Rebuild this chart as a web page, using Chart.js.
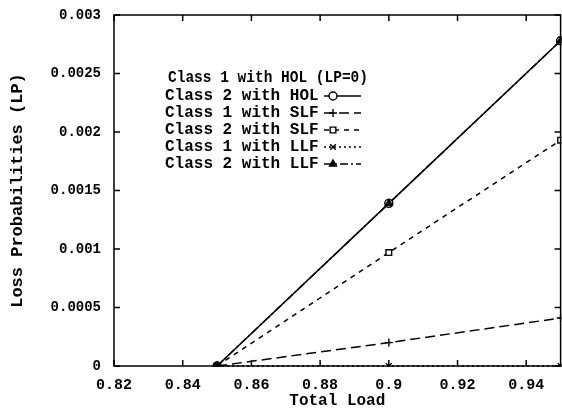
<!DOCTYPE html>
<html>
<head>
<meta charset="utf-8">
<script src="https://cdn.jsdelivr.net/npm/chart.js@4/dist/chart.umd.min.js"></script>
<style>
  body { margin: 0; background: #fff; overflow: hidden; }
  /* canvas is a few px wider than the window so the frame lands on the right edge,
     as in the cropped original */
  #wrap { width: 562px; height: 413px; overflow: hidden; }
</style>
</head>
<body>
<div id="wrap"><canvas id="lpChart" width="566" height="413"></canvas></div>
<script>
// data
const loads = [0.85, 0.9, 0.95];
const class1HOL = [0, 0, 0];
const class2HOL = [0, 0.00139, 0.00278];
const class1SLF = [0, 0.0002, 0.00041];
const class2SLF = [0, 0.00097, 0.00193];
const class1LLF = [0, 0, 0];
const class2LLF = [0, 0.00139, 0.00278];

const seriesLabels = [
  'Class 1 with HOL (LP=0)',
  'Class 2 with HOL',
  'Class 1 with SLF',
  'Class 2 with SLF',
  'Class 1 with LLF',
  'Class 2 with LLF'
];

const xTicks = [0.82, 0.84, 0.86, 0.88, 0.9, 0.92, 0.94];
const xTickLabels = ['0.82', '0.84', '0.86', '0.88', '0.9', '0.92', '0.94'];
const yTicks = [0, 0.0005, 0.001, 0.0015, 0.002, 0.0025, 0.003];
const yTickLabels = ['0', '0.0005', '0.001', '0.0015', '0.002', '0.0025', '0.003'];

const FONT = "'Liberation Mono', 'DejaVu Sans Mono', monospace";

function toPoints(values) {
  return loads.map((x, i) => ({ x: x, y: values[i] }));
}

function series(label, values, dash, style, fill, order) {
  return {
    label: label,
    data: toPoints(values),
    borderColor: '#000',
    borderWidth: 1.5,
    borderDash: dash,
    pointStyle: style,
    pointRadius: 4,
    pointBorderWidth: 1.4,
    pointBorderColor: '#000',
    pointBackgroundColor: fill,
    tension: 0,
    fill: false,
    clip: 1,
    order: order
  };
}

const datasets = [
  // LP=0 everywhere, only shows up in the key
  Object.assign(series(seriesLabels[0], class1HOL, [], false, '#fff', 6), { showLine: false, pointRadius: 0 }),
  series(seriesLabels[1], class2HOL, [], 'circle', '#fff', 5),
  series(seriesLabels[2], class1SLF, [10, 5], 'cross', '#fff', 4),
  series(seriesLabels[3], class2SLF, [5, 5], 'rect', '#fff', 3),
  series(seriesLabels[4], class1LLF, [2, 3], 'crossRot', '#fff', 2),
  series(seriesLabels[5], class2LLF, [8, 3, 2, 3], 'triangle', '#000', 1)
];

// gnuplot style key: text first, then line sample
const keyPlugin = {
  id: 'gnuKey',
  afterDatasetsDraw(chart) {
    const ctx = chart.ctx;
    const rowY = [78, 96, 113, 130, 147, 164];
    ctx.save();
    chart.data.datasets.forEach((ds, i) => {
      const y = rowY[i];
      ctx.fillStyle = '#000';
      ctx.textBaseline = 'middle';
      ctx.textAlign = 'left';
      ctx.font = 'bold 16px ' + FONT;
      if (i === 0) {
        ctx.fillText(ds.label, 168, y, 200);
        return;
      }
      ctx.fillText(ds.label, 165, y, 157);
      ctx.strokeStyle = '#000';
      ctx.lineWidth = 1.5;
      ctx.setLineDash(ds.borderDash || []);
      ctx.beginPath();
      ctx.moveTo(324, y);
      ctx.lineTo(361, y);
      ctx.stroke();
      ctx.setLineDash([]);
      ctx.fillStyle = ds.pointBackgroundColor;
      ctx.lineWidth = ds.pointBorderWidth;
      Chart.helpers.drawPoint(ctx, { pointStyle: ds.pointStyle, radius: 4, rotation: 0, borderWidth: ds.pointBorderWidth }, 333, y);
    });
    ctx.restore();
  }
};

// closed frame with ticks pointing inwards on all four sides
const framePlugin = {
  id: 'frame',
  afterDraw(chart) {
    const ctx = chart.ctx;
    const a = chart.chartArea;
    const xs = chart.scales.x;
    const ys = chart.scales.y;
    const len = 6;
    ctx.save();
    ctx.strokeStyle = '#000';
    ctx.lineWidth = 1.5;
    ctx.strokeRect(a.left, a.top, a.right - a.left, a.bottom - a.top);
    ctx.beginPath();
    xTicks.forEach(v => {
      const px = xs.getPixelForValue(v);
      ctx.moveTo(px, a.bottom); ctx.lineTo(px, a.bottom - len);
      ctx.moveTo(px, a.top); ctx.lineTo(px, a.top + len);
    });
    yTicks.forEach(v => {
      const py = ys.getPixelForValue(v);
      ctx.moveTo(a.left, py); ctx.lineTo(a.left + len, py);
      ctx.moveTo(a.right, py); ctx.lineTo(a.right - len, py);
    });
    ctx.stroke();
    ctx.restore();
  }
};

new Chart(document.getElementById('lpChart'), {
  type: 'line',
  data: { datasets: datasets },
  options: {
    responsive: false,
    animation: false,
    layout: { padding: { top: 15, right: 0, left: 0, bottom: 0 } },
    plugins: {
      legend: { display: false },
      tooltip: { enabled: false }
    },
    scales: {
      x: {
        type: 'linear',
        min: 0.82,
        max: 0.95,
        grid: { display: false, drawTicks: false },
        border: { display: false },
        afterBuildTicks: s => { s.ticks = xTicks.map(v => ({ value: v })); },
        afterFit: s => { s.height = 47; s.paddingLeft = 0; s.paddingRight = 0; },
        ticks: {
          autoSkip: false,
          maxRotation: 0,
          padding: 10,
          color: '#000',
          font: { family: FONT, size: 15, weight: 'bold' },
          callback: (v, i) => xTickLabels[i]
        },
        title: {
          display: true,
          text: 'Total Load',
          color: '#000',
          font: { family: FONT, size: 16, weight: 'bold' },
          padding: { top: 0, bottom: 2 }
        }
      },
      y: {
        min: 0,
        max: 0.003,
        grid: { display: false, drawTicks: false },
        border: { display: false },
        afterBuildTicks: s => { s.ticks = yTicks.map(v => ({ value: v })); },
        afterFit: s => { s.width = 114; s.paddingTop = 0; s.paddingBottom = 0; },
        ticks: {
          autoSkip: false,
          padding: 13,
          color: '#000',
          font: { family: FONT, size: 14, weight: 'bold' },
          callback: (v, i) => yTickLabels[i]
        },
        title: {
          display: true,
          text: 'Loss Probabilities (LP)',
          color: '#000',
          font: { family: FONT, size: 17, weight: 'bold' },
          padding: { top: 8, bottom: 0 }
        }
      }
    }
  },
  plugins: [keyPlugin, framePlugin]
});
</script>
</body>
</html>
